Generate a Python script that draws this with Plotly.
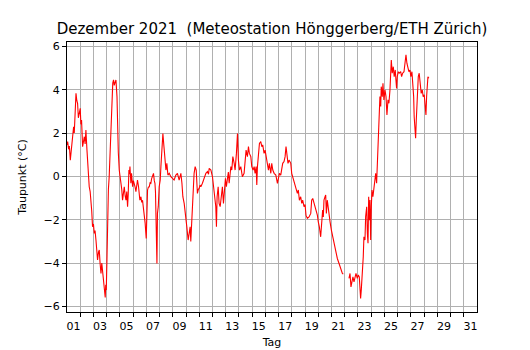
import plotly.graph_objects as go

# Time in days since 1 Dec 2021 00:00, dew point in °C
days = [
    0.00, 0.05, 0.12, 0.18, 0.25, 0.32, 0.38, 0.43, 0.50, 0.55, 0.60, 0.68, 0.74, 0.80, 0.86, 0.93,
    1.00, 1.05, 1.10, 1.18, 1.25, 1.31, 1.37, 1.43, 1.51, 1.56, 1.61, 1.68, 1.75, 1.81, 1.87, 1.93,
    2.00, 2.06, 2.12, 2.19, 2.25, 2.31, 2.38, 2.44, 2.50, 2.57, 2.63, 2.69, 2.76, 2.82, 2.89, 2.93,
    2.97, 3.02, 3.07, 3.13, 3.19, 3.26, 3.32, 3.40, 3.46, 3.52, 3.57, 3.62, 3.70, 3.78, 3.82, 3.88,
    3.95, 4.01, 4.08, 4.14, 4.20, 4.26, 4.33, 4.40, 4.46, 4.52, 4.58, 4.63, 4.68, 4.72, 4.76, 4.80,
    4.83, 4.88, 4.96, 5.02, 5.08, 5.15, 5.21, 5.27, 5.33, 5.41, 5.47, 5.51, 5.59, 5.65, 5.71, 5.78,
    5.84, 5.91, 5.99, 6.04, 6.09, 6.15, 6.22, 6.28, 6.34, 6.40, 6.47, 6.54, 6.60, 6.65, 6.69, 6.74,
    6.80, 6.84, 6.90, 6.97, 7.05, 7.10, 7.18, 7.25, 7.33, 7.40, 7.48, 7.55, 7.63, 7.73, 7.85, 7.98,
    8.10, 8.23, 8.35, 8.48, 8.55, 8.61, 8.69, 8.76, 8.86, 8.99, 9.06, 9.16, 9.24, 9.31, 9.36, 9.41,
    9.49, 9.56, 9.61, 9.69, 9.77, 9.82, 9.86, 9.93, 9.99, 10.06, 10.12, 10.24, 10.37, 10.50, 10.62, 10.70,
    10.75, 10.88, 11.00, 11.07, 11.18, 11.25, 11.30, 11.35, 11.43, 11.50, 11.58, 11.68, 11.75, 11.83, 11.90, 11.98,
    12.05, 12.13, 12.20, 12.26, 12.39, 12.46, 12.54, 12.64, 12.71, 12.81, 12.89, 12.96, 13.04, 13.14, 13.26, 13.39,
    13.47, 13.54, 13.64, 13.72, 13.79, 13.90, 13.97, 14.07, 14.15, 14.22, 14.30, 14.35, 14.40, 14.47, 14.55, 14.65,
    14.73, 14.80, 14.90, 14.98, 15.05, 15.15, 15.23, 15.30, 15.41, 15.48, 15.56, 15.66, 15.79, 15.91, 15.98, 16.06,
    16.16, 16.24, 16.31, 16.41, 16.49, 16.56, 16.64, 16.71, 16.79, 16.92, 16.99, 17.07, 17.17, 17.30, 17.42, 17.49,
    17.57, 17.67, 17.75, 17.82, 17.92, 18.00, 18.07, 18.17, 18.30, 18.43, 18.50, 18.58, 18.68, 18.75, 18.83, 18.93,
    19.00, 19.08, 19.18, 19.26, 19.33, 19.38, 19.43, 19.51, 19.56, 19.61, 19.68, 19.76, 19.81, 19.89, 19.99, 20.09,
    20.19, 20.26, 20.36, 20.44, 20.57, 20.69, 20.82, 20.89, 21.10, 21.32, 21.40, 21.47, 21.55, 21.62, 21.70, 21.78,
    21.85, 21.95, 22.02, 22.10, 22.15, 22.20, 22.25, 22.30, 22.36, 22.40, 22.45, 22.53, 22.58, 22.66, 22.71, 22.76,
    22.81, 22.86, 22.91, 22.96, 23.01, 23.06, 23.13, 23.21, 23.29, 23.34, 23.41, 23.46, 23.51, 23.56, 23.61, 23.66,
    23.72, 23.76, 23.84, 23.89, 23.96, 24.04, 24.12, 24.19, 24.27, 24.34, 24.42, 24.47, 24.52, 24.59, 24.67, 24.74,
    24.82, 24.87, 24.92, 24.97, 25.05, 25.12, 25.23, 25.30, 25.38, 25.48, 25.55, 25.63, 25.70, 25.78, 25.85, 25.93,
    26.00, 26.08, 26.16, 26.21, 26.25, 26.31, 26.36, 26.41, 26.46, 26.51, 26.56, 26.63, 26.71, 26.78, 26.86, 26.93,
    27.01, 27.08, 27.14, 27.19, 27.24, 27.29, 27.36,
]

taupunkt = [
    1.45, 1.60, 1.25, 1.40, 0.75, 1.10, 1.55, 1.83, 2.29, 2.00, 3.00, 3.83, 3.50, 3.37, 2.70, 2.91,
    3.14, 2.40, 2.60, 1.37, 1.70, 1.83, 1.50, 2.14, 1.21, 0.60, 0.14, -0.48, -0.70, -1.10, -1.60, -2.33,
    -2.20, -2.63, -2.50, -2.94, -3.30, -3.86, -3.50, -3.40, -4.00, -4.48, -4.00, -4.33, -4.80, -5.10, -5.59, -5.00,
    -5.25, -3.86, -1.10, -0.60, -0.02, 1.20, 2.29, 3.99, 4.30, 4.45, 4.20, 4.30, 4.45, 3.68, 1.52, 1.10,
    0.29, 0.00, -0.17, -0.60, -1.10, -0.80, -0.48, -0.90, -1.10, -0.70, -1.40, -0.80, 0.29, 0.10, 0.45, 0.00,
    -0.32, 0.14, -0.48, -0.20, -0.32, -0.50, -0.71, -0.40, -0.17, -0.48, -0.80, -1.10, -0.94, -1.20, -1.10, -1.40,
    -1.71, -2.17, -2.87, -1.25, -0.63, -0.50, -0.48, -0.30, -0.32, -0.10, 0.06, 0.14, -0.20, -0.32, -0.71, -2.33,
    -4.02, -1.71, -1.40, -0.48, -0.17, 0.45, 1.52, 1.98, 1.37, 0.91, 0.29, 0.60, 0.06, 0.14, -0.02, -0.09,
    -0.17, 0.06, 0.14, -0.17, 0.10, 0.14, -0.32, -0.94, -1.25, -1.86, -2.33, -2.94, -2.64, -2.33, -3.00, -2.17,
    -1.71, -0.48, 0.14, 0.45, 0.29, -0.48, -0.79, -0.60, -0.56, -0.40, -0.48, -0.32, -0.09, 0.14, 0.22, 0.10,
    0.37, 0.29, -0.02, -0.48, -0.94, -1.40, -2.33, -0.94, -0.48, -1.25, -1.40, -0.94, -0.48, -1.25, -0.48, -0.09,
    -0.48, -0.02, 0.20, -0.32, 0.45, 0.29, 0.91, 0.60, 0.29, 1.06, 1.98, 0.75, 0.29, 0.45, -0.02, 0.14,
    0.60, 1.21, 0.91, 1.37, 1.06, 0.91, 0.45, 0.29, 0.45, 0.14, 0.45, -0.40, 0.45, 1.21, 1.52, 1.60,
    1.37, 1.45, 1.06, 1.21, 0.91, 0.45, 0.29, 0.60, 0.14, 0.60, 0.29, 0.14, 0.06, -0.32, -0.02, 0.14,
    0.06, 0.29, 0.60, 0.68, 0.91, 1.37, 0.91, 0.60, 0.75, 0.60, 0.14, -0.02, -0.17, -0.48, -0.79, -0.63,
    -1.10, -0.94, -1.25, -1.10, -1.40, -1.30, -1.79, -1.94, -1.87, -1.71, -1.10, -1.02, -1.25, -1.40, -1.48, -1.79,
    -2.10, -2.33, -2.79, -2.02, -1.56, -1.87, -1.10, -0.94, -0.86, -1.71, -1.10, -1.48, -1.87, -2.10, -2.48, -2.79,
    -3.17, -3.40, -3.63, -3.79, -4.02, -4.25, -4.48, -4.51, None, -4.71, -4.48, -5.10, -4.79, -4.64, -4.87, -4.64,
    -4.48, -4.71, -4.55, -4.64, -5.02, -5.64, -5.25, -4.79, -4.48, -3.71, -2.79, -2.94, -1.86, -1.40, -2.63, -3.09,
    -0.94, -2.02, -1.09, -2.94, -1.40, -0.63, -0.94, -0.48, -0.17, 0.14, -0.32, 0.45, 1.37, 2.60, 3.22, 3.68,
    3.22, 4.14, 3.68, 4.30, 3.53, 3.99, 3.68, 2.83, 3.53, 3.37, 3.99, 4.45, 5.37, 4.76, 5.06, 4.60,
    4.91, 4.45, 4.06, 4.60, 4.83, 4.76, 4.83, 4.60, 4.76, 4.83, 5.22, 5.61, 5.22, 4.99, 4.83, 4.91,
    4.60, 4.83, 4.30, 3.68, 2.75, 2.14, 1.76, 2.60, 3.53, 4.14, 4.60, 4.76, 4.30, 3.83, 3.99, 3.68,
    3.76, 3.06, 2.83, 3.68, 4.14, 4.60, 4.53,
]

# x-axis: day boundaries (grid + ticks) and day labels centred at noon of odd days
day_boundaries = list(range(1, 31))
label_days = list(range(1, 32, 2))
label_pos = [d - 0.5 for d in label_days]
label_text = [f"{d:02d}" for d in label_days]
y_ticks = [-6, -4, -2, 0, 2, 4, 6]

font = "DejaVu Sans, Liberation Sans, sans-serif"
grid = "#b0b0b0"

fig = go.Figure()
fig.add_trace(go.Scatter(
    x=days, y=taupunkt, mode="lines",
    line=dict(color="red", width=1.1),
    connectgaps=False, showlegend=False, hoverinfo="skip",
))

fig.update_layout(
    width=530, height=350,
    margin=dict(l=67, r=53, t=42, b=38, autoexpand=False),
    paper_bgcolor="white", plot_bgcolor="white",
    font=dict(family=font, size=11, color="black"),
    title=dict(
        text="Dezember 2021  (Meteostation Hönggerberg/ETH Zürich)",
        x=0.5, xref="paper", xanchor="center",
        y=1 - 29 / 350, yref="container", yanchor="middle",
        font=dict(size=15, color="black"),
    ),
)

fig.update_xaxes(
    range=[0, 31], automargin=False,
    tickmode="array", tickvals=label_pos, ticktext=label_text,
    ticks="outside", ticklen=4, tickcolor="rgba(0,0,0,0)",
    showgrid=False, zeroline=False,
    showline=True, linecolor="black", linewidth=1, mirror=True,
    minor=dict(tickvals=day_boundaries, ticks="outside", ticklen=4,
               tickcolor="black", tickwidth=1,
               showgrid=True, gridcolor=grid, gridwidth=1),
    title=dict(text="Tag", font=dict(size=11), standoff=6),
)

fig.update_yaxes(
    range=[-6.26, 6.2], automargin=False,
    tickmode="array", tickvals=y_ticks,
    ticks="outside", ticklen=4, tickcolor="black", tickwidth=1,
    showgrid=True, gridcolor=grid, gridwidth=1, zeroline=False,
    showline=True, linecolor="black", linewidth=1, mirror=True,
    title=dict(text="Taupunkt (°C)", font=dict(size=11), standoff=14),
)

fig.write_html("out.html")
